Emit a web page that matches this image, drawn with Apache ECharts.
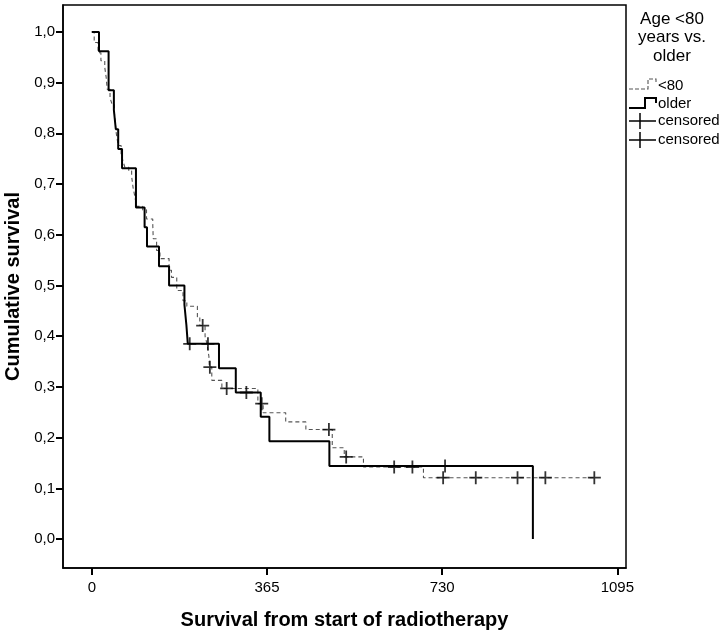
<!DOCTYPE html>
<html>
<head>
<meta charset="utf-8">
<script src="https://cdn.jsdelivr.net/npm/echarts@6/dist/echarts.min.js"></script>
<style>
html,body{margin:0;padding:0;background:#fff;}
#chart{width:722px;height:631px;}
</style>
</head>
<body>
<div id="chart"></div>
<script>
// ---- Data ----
const xTicks = [0, 365, 730, 1095];
const yTicks = [0, 0.1, 0.2, 0.3, 0.4, 0.5, 0.6, 0.7, 0.8, 0.9, 1.0];

// older group: step times (days) and survival after each step
const olderTimes = [0, 15, 35, 46, 50, 55, 63, 92, 110, 115, 140, 161, 193, 197, 200, 265, 300, 352, 370, 495, 919];
const olderSurv  = [1.0, 0.962, 0.885, 0.846, 0.808, 0.769, 0.731, 0.654, 0.615, 0.577, 0.538, 0.5, 0.462, 0.423, 0.385, 0.337, 0.289, 0.241, 0.193, 0.144, 0.0];
const olderCensTimes = [204, 242, 322, 736];
const olderCensSurv  = [0.385, 0.385, 0.289, 0.144];

// <80 group
const youngTimes = [0, 5, 13, 19, 27, 30, 32, 38, 42, 47, 49, 51, 55, 61, 65, 69, 77, 83, 86, 90, 93, 106, 114, 127, 128, 135, 142, 161, 166, 177, 190, 198, 220, 225, 236, 240, 244, 245, 250, 271, 346, 357, 404, 446, 501, 526, 566, 691, 1050];
const youngSurv  = [1.0, 0.979, 0.959, 0.943, 0.93, 0.91, 0.887, 0.87, 0.858, 0.841, 0.82, 0.80, 0.776, 0.76, 0.745, 0.733, 0.726, 0.715, 0.693, 0.674, 0.656, 0.649, 0.631, 0.621, 0.592, 0.569, 0.553, 0.53, 0.516, 0.49, 0.47, 0.459, 0.438, 0.421, 0.40, 0.385, 0.36, 0.339, 0.313, 0.297, 0.267, 0.249, 0.231, 0.216, 0.18, 0.162, 0.142, 0.121, 0.121];
const youngCensTimes = [231, 246, 281, 354, 494, 530, 630, 668, 732, 800, 887, 945, 1047];
const youngCensSurv  = [0.421, 0.339, 0.297, 0.267, 0.216, 0.162, 0.142, 0.142, 0.121, 0.121, 0.121, 0.121, 0.121];

const legendTitle = 'Age <80\nyears vs.\nolder';
const legendNames = ['<80', 'older', 'censored', 'censored'];

const zip = (a, b) => a.map((v, i) => [v, b[i]]);
const FONT = 'Liberation Sans';
const PLUS = 'path://M6,0L6,12M0,6L12,6';
const LFONT = '15px "Liberation Sans"';

const chart = echarts.init(document.getElementById('chart'), null, {renderer: 'canvas'});

const legendX = 629;
const option = {
  animation: false,
  backgroundColor: '#fff',
  grid: {left: 63, right: 96, top: 5, bottom: 63, show: true, borderColor: '#000', borderWidth: 1.5, containLabel: false, outerBoundsMode: 'none'},
  xAxis: {
    type: 'value', min: -60, max: 1113,
    splitLine: {show: false},
    axisLine: {show: true, onZero: false, lineStyle: {color: '#000', width: 1.5}},
    axisTick: {show: true, customValues: xTicks, length: 7, inside: false, lineStyle: {color: '#000', width: 2}},
    axisLabel: {customValues: xTicks, margin: 12, color: '#000', fontFamily: FONT, fontSize: 15, formatter: v => String(v)},
    name: 'Survival from start of radiotherapy', nameLocation: 'middle', nameGap: 42,
    nameTextStyle: {color: '#000', fontFamily: FONT, fontSize: 20, fontWeight: 'bold'}
  },
  yAxis: {
    type: 'value', min: -0.057, max: 1.053,
    splitLine: {show: false},
    axisLine: {show: true, onZero: false, lineStyle: {color: '#000', width: 1.5}},
    axisTick: {show: true, customValues: yTicks, length: 7, inside: false, lineStyle: {color: '#000', width: 2}},
    axisLabel: {customValues: yTicks, margin: 8, color: '#000', fontFamily: FONT, fontSize: 15, formatter: v => v.toFixed(1).replace('.', ',')},
    name: 'Cumulative survival', nameLocation: 'middle', nameGap: 40,
    nameTextStyle: {color: '#000', fontFamily: FONT, fontSize: 20, fontWeight: 'bold'}
  },
  series: [
    {
      name: '<80', type: 'line', step: 'end', showSymbol: false, symbol: 'none',
      data: zip(youngTimes, youngSurv),
      lineStyle: {color: '#555', width: 1.1, type: [4, 3]},
      emphasis: {disabled: true}, z: 2
    },
    {
      name: 'older', type: 'line', step: 'end', showSymbol: false, symbol: 'none',
      data: zip(olderTimes, olderSurv),
      lineStyle: {color: '#000', width: 2},
      emphasis: {disabled: true}, z: 3
    },
    {
      name: 'censored', type: 'scatter', symbol: PLUS, symbolSize: 13,
      data: zip(youngCensTimes, youngCensSurv),
      itemStyle: {color: 'none', borderColor: '#000', borderWidth: 1.8},
      emphasis: {disabled: true}, z: 4
    },
    {
      name: 'censored ', type: 'scatter', symbol: PLUS, symbolSize: 13,
      data: zip(olderCensTimes, olderCensSurv),
      itemStyle: {color: 'none', borderColor: '#000', borderWidth: 1.8},
      emphasis: {disabled: true}, z: 4
    }
  ],
  graphic: [
    {type: 'text', left: 672 - 40, top: 10, style: {text: legendTitle, width: 80, align: 'center', x: 40, textAlign: 'center', fill: '#000', font: '17px "Liberation Sans"', lineHeight: 18.5}},
    // <80 icon (dashed step)
    {type: 'polyline', shape: {points: [[legendX, 89], [648, 89], [648, 79], [656, 79], [656, 84]]}, style: {stroke: '#555', lineWidth: 1.1, lineDash: [4, 2], fill: null}},
    {type: 'text', left: 658, top: 78, style: {text: legendNames[0], fill: '#000', font: LFONT}},
    // older icon
    {type: 'polyline', shape: {points: [[legendX, 108], [645, 108], [645, 98], [656, 98], [656, 103]]}, style: {stroke: '#000', lineWidth: 2, fill: null}},
    {type: 'text', left: 658, top: 96, style: {text: legendNames[1], fill: '#000', font: LFONT}},
    // censored icons
    {type: 'polyline', shape: {points: [[legendX, 121], [656, 121]]}, style: {stroke: '#000', lineWidth: 1.5}},
    {type: 'polyline', shape: {points: [[640, 113], [640, 129]]}, style: {stroke: '#000', lineWidth: 1.5}},
    {type: 'text', left: 658, top: 113, style: {text: legendNames[2], fill: '#000', font: LFONT}},
    {type: 'polyline', shape: {points: [[legendX, 140], [656, 140]]}, style: {stroke: '#000', lineWidth: 1.5}},
    {type: 'polyline', shape: {points: [[640, 132], [640, 148]]}, style: {stroke: '#000', lineWidth: 1.5}},
    {type: 'text', left: 658, top: 132, style: {text: legendNames[3], fill: '#000', font: LFONT}}
  ]
};
chart.setOption(option);
</script>
</body>
</html>
